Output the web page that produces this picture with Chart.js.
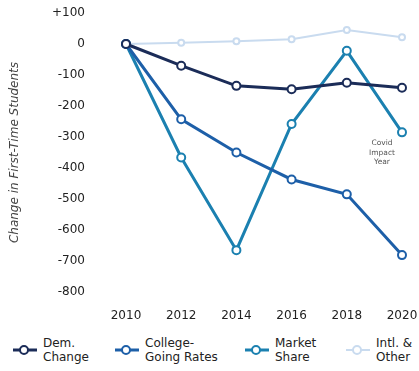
<!DOCTYPE html>
<html>
<head>
<meta charset="utf-8">
<script src="https://cdn.jsdelivr.net/npm/chart.js@4"></script>
<style>
  html, body { margin: 0; padding: 0; background: #fff; }
  body { width: 419px; height: 371px; position: relative; overflow: hidden; font-family: "DejaVu Sans", Verdana, sans-serif; }
  #wrap { position: absolute; left: 0; top: 0; width: 419px; height: 322px; }
  .legend { position: absolute; top: 336px; left: 0; width: 419px; height: 34px; }
  .item { position: absolute; top: 0; display: flex; align-items: center; }
  .item svg { margin-right: 5px; }
  .item span { font-size: 12px; line-height: 14px; color: #222; }
</style>
</head>
<body>
<div id="wrap"><canvas id="chart"></canvas></div>
<div class="legend" id="legend"></div>
<script>
// Change in first-time students vs 2010, by driver
const years = ['2010', '2012', '2014', '2016', '2018', '2020'];
const demChange = [0, -70, -135, -146, -125, -141];
const collegeGoing = [0, -243, -350, -437, -485, -681];
const marketShare = [0, -366, -665, -258, -22, -285];
const intlOther = [0, 4, 9, 15, 45, 22];
const yTicks = [100, 0, -100, -200, -300, -400, -500, -600, -700, -800];

const series = [
  { label: ['Dem.', 'Change'], data: demChange, color: '#1b2c58', width: 3, left: 12 },
  { label: ['College-', 'Going Rates'], data: collegeGoing, color: '#1d5fa8', width: 3, left: 114 },
  { label: ['Market', 'Share'], data: marketShare, color: '#1b80b0', width: 3, left: 244 },
  { label: ['Intl. &', 'Other'], data: intlOther, color: '#c9dbef', width: 2, left: 345 }
];

const font = { family: '"DejaVu Sans", Verdana, sans-serif', size: 12 };

// Small note next to the 2020 market share point
const covidNote = {
  id: 'covidNote',
  afterDatasetsDraw(chart) {
    const { ctx, scales } = chart;
    const x = scales.x.getPixelForValue(5) - 20;
    const y = scales.y.getPixelForValue(-320);
    ctx.save();
    ctx.font = '7.5px "DejaVu Sans", sans-serif';
    ctx.fillStyle = '#555';
    ctx.textAlign = 'center';
    ctx.textBaseline = 'middle';
    ['Covid', 'Impact', 'Year'].forEach((t, i) => ctx.fillText(t, x, y + i * 9.5));
    ctx.restore();
  }
};

new Chart(document.getElementById('chart'), {
  type: 'line',
  data: {
    labels: years,
    datasets: series.map((s, i) => ({
      label: s.label.join(' '),
      data: s.data,
      borderColor: s.color,
      borderWidth: s.width,
      pointBorderColor: s.color,
      pointBackgroundColor: '#fff',
      pointRadius: i === 3 ? 3 : 4,
      pointBorderWidth: 2,
      tension: 0,
      clip: false,
      order: i === 3 ? 10 : i
    }))
  },
  options: {
    responsive: true,
    maintainAspectRatio: false,
    animation: false,
    layout: { padding: { top: 13, right: 17, left: 0, bottom: 0 } },
    scales: {
      x: {
        offset: false,
        grid: { display: false },
        border: { display: false },
        ticks: { color: '#222', font: font, padding: 9, maxRotation: 0 },
        afterFit(scale) {
          scale.height = 30;
          scale.paddingLeft = 0;
          scale.paddingRight = 0;
        }
      },
      y: {
        min: -800,
        max: 100,
        grid: { display: false },
        border: { display: false },
        afterBuildTicks(scale) { scale.ticks = yTicks.map(v => ({ value: v })); },
        ticks: {
          color: '#222',
          font: font,
          padding: 33,
          callback: v => (v > 0 ? '+' + v : v)
        },
        title: {
          display: true,
          text: 'Change in First-Time Students',
          color: '#444',
          font: { family: '"DejaVu Sans", Verdana, sans-serif', size: 12, style: 'italic' },
          padding: { top: 8, bottom: 0 }
        },
        afterFit(scale) {
          scale.width = 126;
          scale.paddingTop = 0;
          scale.paddingBottom = 0;
        }
      }
    },
    plugins: {
      legend: { display: false },
      tooltip: { enabled: false }
    }
  },
  plugins: [covidNote]
});

// Legend with two-line labels
const legend = document.getElementById('legend');
series.forEach(s => {
  const item = document.createElement('div');
  item.className = 'item';
  item.style.left = s.left + 'px';
  item.innerHTML =
    '<svg width="26" height="12"><line x1="1" y1="6" x2="25" y2="6" stroke="' + s.color +
    '" stroke-width="' + s.width + '"/><circle cx="12" cy="6" r="4" fill="#fff" stroke="' + s.color +
    '" stroke-width="2"/></svg><span>' + s.label[0] + '<br>' + s.label[1] + '</span>';
  legend.appendChild(item);
});
</script>
</body>
</html>
